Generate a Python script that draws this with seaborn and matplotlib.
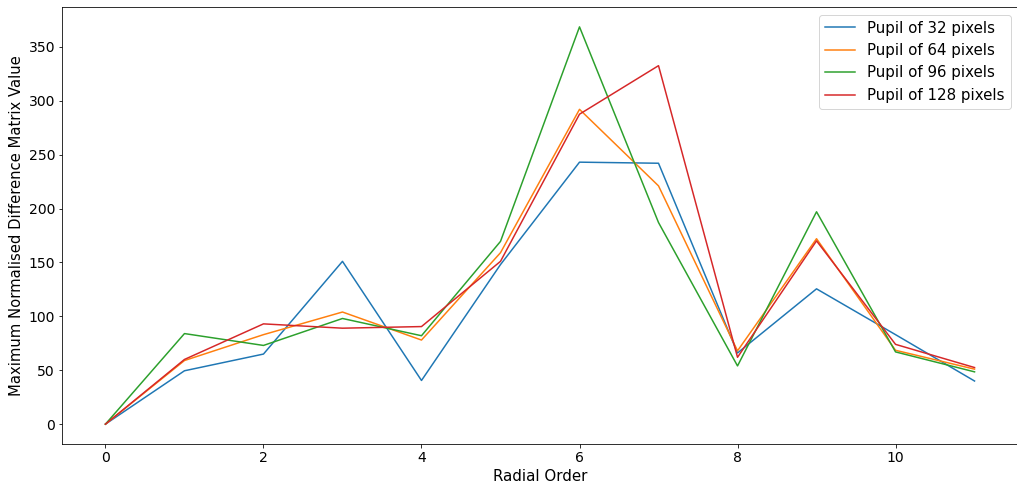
import numpy as np
import pandas as pd
import seaborn as sns
from matplotlib import pyplot as plt

radial_order = list(range(12))
pupil_32 = [0, 49.5, 65, 151, 40.5, 148, 243, 242, 66, 125.5, 83, 40]
pupil_64 = [0, 59, 83, 104, 78, 159, 292, 221, 68, 172, 68.5, 51]
pupil_96 = [0, 84, 73, 98, 82, 169.5, 368.5, 187, 54, 197, 67, 48.5]
pupil_128 = [0, 60, 93, 89, 90.5, 151, 287.5, 332.5, 62, 170, 74, 52.5]
labels = ['Pupil of 32 pixels', 'Pupil of 64 pixels', 'Pupil of 96 pixels', 'Pupil of 128 pixels']

frames = []
for lab, vals in zip(labels, [pupil_32, pupil_64, pupil_96, pupil_128]):
    frames.append(pd.DataFrame({'order': radial_order, 'value': vals, 'pupil': lab}))
df = pd.concat(frames, ignore_index=True)

plt.rcParams['font.size'] = 14
fig = plt.figure(figsize=(1017 / 72, 485 / 72), dpi=72)
ax = fig.add_axes([62 / 1017, 1 - 444 / 485, 956 / 1017, (444 - 7) / 485])
sns.lineplot(data=df, x='order', y='value', hue='pupil', palette='tab10', ax=ax, linewidth=1.5)
ax.spines['right'].set_visible(False)
ax.set_xlabel('Radial Order', fontsize=15)
ax.set_ylabel('Maximum Normalised Difference Matrix Value', fontsize=14.7)
ax.legend(loc='upper right', fontsize=15)
fig.savefig('out.png', dpi=72)
